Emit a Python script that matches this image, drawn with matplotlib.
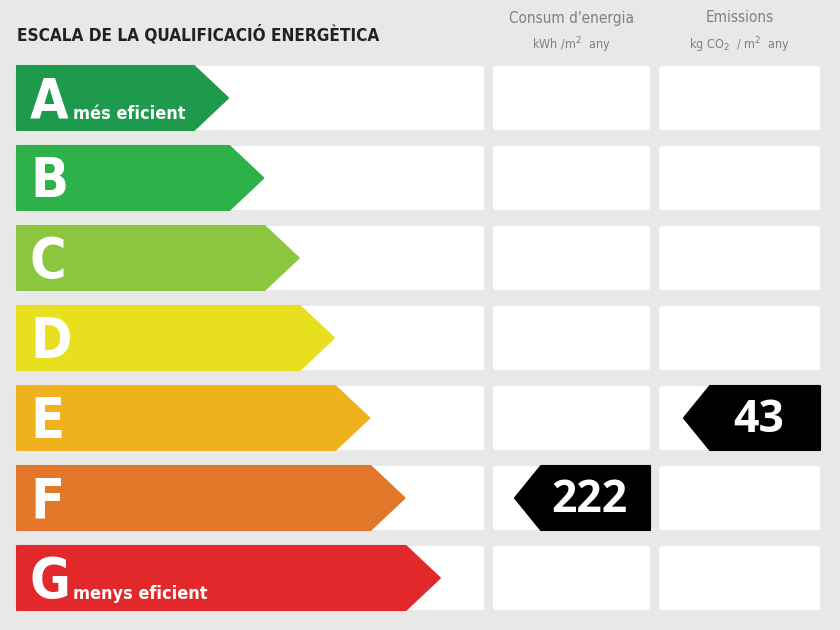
import matplotlib
matplotlib.use("Agg")
import matplotlib.pyplot as plt
from matplotlib.patches import Polygon, FancyBboxPatch

# energy classes and colours
classes = ["A", "B", "C", "D", "E", "F", "G"]
colors = ["#1d9a4c", "#2db24a", "#8cc63e", "#e8e01e", "#efb11c", "#e2772a", "#e2282a"]
sub_labels = {"A": "més eficient", "G": "menys eficient"}

# the values shown in the black tags
consum_class = "F"
consum_value = 222
emis_class = "E"
emis_value = 43

title = "ESCALA DE LA QUALIFICACIÓ ENERGÈTICA"
col_titles = ["Consum d'energia", "Emissions"]
col_units = ["kWh /m$^2$  any", "kg CO$_2$  / m$^2$  any"]

narrow = dict(family="DejaVu Sans", fontstretch="condensed")

fig = plt.figure(figsize=(8.4, 6.3), dpi=100)
fig.patch.set_facecolor("#e8e8e8")
ax = fig.add_axes([0, 0, 1, 1])
ax.set_xlim(0, 840)
ax.set_ylim(630, 0)
ax.axis("off")

row_top = 66
row_h = 64
pitch = 80
cols = [(17, 484), (493, 650), (659, 820)]

ax.text(17, 35, title, fontsize=12.3, fontweight="bold", **narrow,
        color="#222222", va="center", ha="left")
for (x0, x1), t, u in zip(cols[1:], col_titles, col_units):
    cx = (x0 + x1) / 2
    ax.text(cx, 18, t, fontsize=11, **narrow, color="#808080",
            ha="center", va="center")
    ax.text(cx, 45, u, fontsize=9, **narrow, color="#808080",
            ha="center", va="center")


def tag(x0, x1, y, value):
    notch = 26
    pts = [(x0, y + row_h / 2), (x0 + notch, y), (x1, y), (x1, y + row_h),
           (x0 + notch, y + row_h)]
    ax.add_patch(Polygon(pts, closed=True, facecolor="black", edgecolor="black",
                         joinstyle="round", lw=1.5))
    ax.text((x0 + notch + x1) / 2 - 6, y + row_h / 2 + 2, str(value),
            fontsize=32, fontweight="bold", family=["Open Sans", "DejaVu Sans"],
            color="white", ha="center", va="center")


for i, (c, col) in enumerate(zip(classes, colors)):
    y = row_top + i * pitch
    for x0, x1 in cols:
        ax.add_patch(FancyBboxPatch((x0, y), x1 - x0, row_h,
                                    boxstyle="round,pad=0,rounding_size=3",
                                    facecolor="white", edgecolor="none"))
    tip = 228 + i * 35.3
    body = tip - 34
    pts = [(17, y), (body, y), (tip, y + row_h / 2), (body, y + row_h), (17, y + row_h)]
    ax.add_patch(Polygon(pts, closed=True, facecolor=col, edgecolor=col,
                         joinstyle="round", lw=1.5))
    ax.text(30, y + 36, c, fontsize=40, fontweight="bold", **narrow,
            color="white", ha="left", va="center")
    if c in sub_labels:
        ax.text(73, y + 48, sub_labels[c], fontsize=13, fontweight="bold",
                **narrow, color="white", ha="left", va="center")
    if c == consum_class:
        tag(515, cols[1][1], y, consum_value)
    if c == emis_class:
        tag(684, cols[2][1], y, emis_value)

fig.savefig("out.png", dpi=100, facecolor=fig.get_facecolor())
